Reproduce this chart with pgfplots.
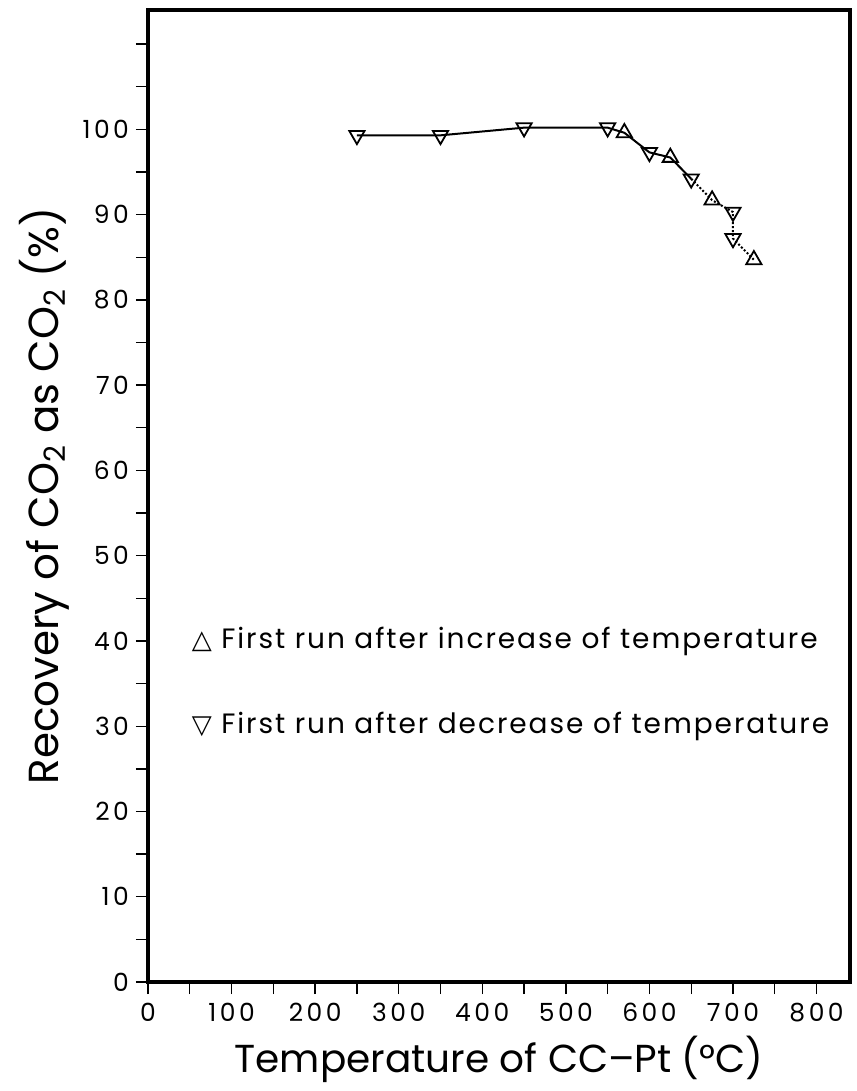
\documentclass[border=0pt]{standalone}
\usepackage{fontspec}
\setmainfont{Poppins}
\newfontfamily\symfont{DejaVu Sans}
\newfontfamily\tickfont[LetterSpace=14]{Poppins}
\newfontfamily\notefont[LetterSpace=7]{Poppins}
\usepackage{pgfplots}
\pgfplotsset{compat=1.18}

\begin{document}
\begin{tikzpicture}
\begin{axis}[
  scale only axis,
  width=351pt, height=486pt,
  xmin=0, xmax=840, ymin=0, ymax=114,
  xtick={0,100,...,800},
  minor xtick={50,150,...,750},
  ytick={0,10,...,100},
  minor ytick={5,15,...,105,110},
  tick align=outside,
  tick pos=left,
  major tick length=6pt,
  minor tick length=6pt,
  every tick/.style={black, line width=0.7pt},
  axis line style={line width=1.7pt},
  /pgf/number format/assume math mode=true,
  tick label style={font=\tickfont\fontsize{12.5}{14}\selectfont},
  xticklabel style={yshift=-1pt},
  xlabel={Temperature of CC–Pt (°C)},
  ylabel={Recovery of CO\textsubscript{2} as CO\textsubscript{2} (\%)},
  xlabel style={font=\fontsize{19.5}{22}\selectfont,
    at={(axis description cs:0.5,-0.08)}, anchor=center},
  ylabel style={font=\fontsize{21}{24}\selectfont,
    at={(axis description cs:-0.148,0.5)}, anchor=center},
]
% connecting curve, solid part then dotted tail
\addplot[black, line width=1pt, forget plot] coordinates {
  (250,99.3) (350,99.3) (450,100.2) (550,100.2) (570,99.6)
  (600,97.3) (625,96.7) (650,94.2)
};
\addplot[black, line width=1pt, densely dotted, forget plot] coordinates {
  (650,94.2) (675,91.7) (700,90.3) (700,87.2) (725,84.7)
};
% first run after decrease of temperature
\addplot[only marks, mark=triangle, mark size=4.4pt,
  mark options={rotate=180, fill=white, draw=black, line width=0.9pt}]
  coordinates {
  (250,99.3) (350,99.3) (450,100.2) (550,100.2)
  (600,97.3) (650,94.2) (700,90.3) (700,87.2)
};
% first run after increase of temperature
\addplot[only marks, mark=triangle, mark size=4.4pt,
  mark options={fill=white, draw=black, line width=0.9pt}]
  coordinates {
  (570,99.6) (625,96.7) (675,91.7) (725,84.7)
};
\node[anchor=west, font=\notefont\fontsize{14}{16}\selectfont, inner sep=0pt]
  at (axis cs:52,40) {{\symfont\fontsize{13}{15}\selectfont △}\ First run after increase of temperature};
\node[anchor=west, font=\notefont\fontsize{14}{16}\selectfont, inner sep=0pt]
  at (axis cs:52,30) {{\symfont\fontsize{13}{15}\selectfont ▽}\ First run after decrease of temperature};
\end{axis}
\pgfresetboundingbox
\path (current axis.south west) ++(-74pt,-54.5pt)
  rectangle ([shift={(3.5pt,5pt)}]current axis.north east);
\end{tikzpicture}
\end{document}
